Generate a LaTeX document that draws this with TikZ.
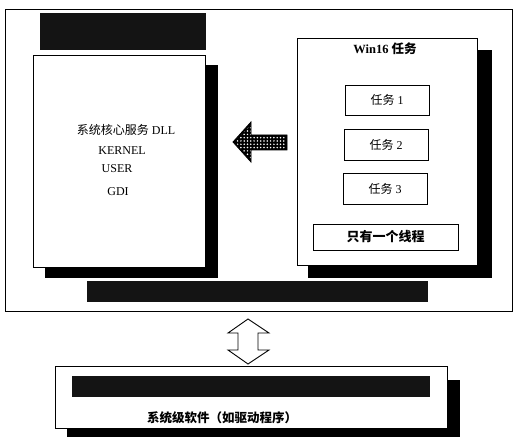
\documentclass[tikz,border=0pt]{standalone}
\usepackage{fontspec}
\setmainfont{Liberation Serif}
\newfontfamily\cjk{Noto Sans CJK SC}
\usetikzlibrary{patterns.meta}
\begin{document}
\begin{tikzpicture}[x=1pt,y=-1pt,
  box/.style={draw=black, line width=0.9pt, fill=white, inner sep=0pt, outer sep=0pt, anchor=north west},
  shadow/.style={fill=black, draw=none, inner sep=0pt, outer sep=0pt, anchor=north west},
  bar/.style={fill=black!92, draw=none, inner sep=0pt, outer sep=0pt, anchor=north west},
  lbl/.style={font=\fontsize{12}{14}\selectfont, inner sep=0pt},
  blbl/.style={font=\fontsize{12.5}{14}\selectfont\bfseries, inner sep=0pt}]
\useasboundingbox (0,0) rectangle (517,438);
\fill[white] (0,0) rectangle (517,438);
% outer frame
\node[box, minimum width=507pt, minimum height=302pt] (outer) at (5,9) {};
\node[bar, minimum width=166pt, minimum height=37pt] (topbar) at (40,13) {};
% left box
\node[shadow, minimum width=173pt, minimum height=213pt] (lshadow) at (45,65) {};
\node[box, minimum width=172pt, minimum height=212pt] (left) at (33,55) {};
\node[lbl] (t1) at (126,130) {{\cjk 系统核心服务} DLL};
\node[lbl] (t2) at (122,151) {KERNEL};
\node[lbl] (t3) at (117,169) {USER};
\node[lbl] (t4) at (118,192) {GDI};
% right box
\node[shadow, minimum width=184pt, minimum height=228pt] (rshadow) at (308,50) {};
\node[box, minimum width=180pt, minimum height=227pt] (right) at (297,38) {};
\node[blbl] (win) at (385,49) {Win16 {\cjk 任务}};
\node[box, minimum width=84pt, minimum height=30pt] (k1) at (345,85) {};
\node[lbl] at (k1.center) {{\cjk 任务} 1};
\node[box, minimum width=84pt, minimum height=31pt] (k2) at (344,129) {};
\node[lbl] at (k2.center) {{\cjk 任务} 2};
\node[box, minimum width=84pt, minimum height=31pt] (k3) at (343,173) {};
\node[lbl] at (k3.center) {{\cjk 任务} 3};
\node[box, minimum width=145pt, minimum height=26pt] (thr) at (313,224) {};
\node[font=\fontsize{13}{15}\selectfont\bfseries, inner sep=0pt] at (thr.center) {\cjk 只有一个线程};
% bottom bar in frame
\node[bar, minimum width=341pt, minimum height=21pt] (midbar) at (87,281) {};
% dotted arrow
\filldraw[line width=0.8pt, fill=black] (233,142) -- (251,122) -- (251,135) -- (287,135) -- (287,150) -- (251,150) -- (251,162) -- cycle;
\fill[pattern={Dots[radius=0.85pt, distance=3.3pt]}, pattern color=white] (235,142) -- (250.5,125) -- (250.5,136) -- (286,136) -- (286,149) -- (250.5,149) -- (250.5,159) -- cycle;
% double arrow
\draw[line width=0.9pt, fill=white] (248,319) -- (269,333) -- (258,333) -- (258,350) -- (269,350) -- (248,364) -- (228,350) -- (238,350) -- (238,333) -- (228,333) -- cycle;
% bottom box
\node[shadow, minimum width=393pt, minimum height=57pt] (bshadow) at (67,380) {};
\node[box, minimum width=392pt, minimum height=62pt] (bottom) at (55,366) {};
\node[bar, minimum width=358pt, minimum height=21pt] (botbar) at (72,376) {};
\node[font=\fontsize{12.5}{14}\selectfont\bfseries, inner sep=0pt] (sys) at (222,418) {\cjk 系统级软件（如驱动程序）};
\end{tikzpicture}
\end{document}
